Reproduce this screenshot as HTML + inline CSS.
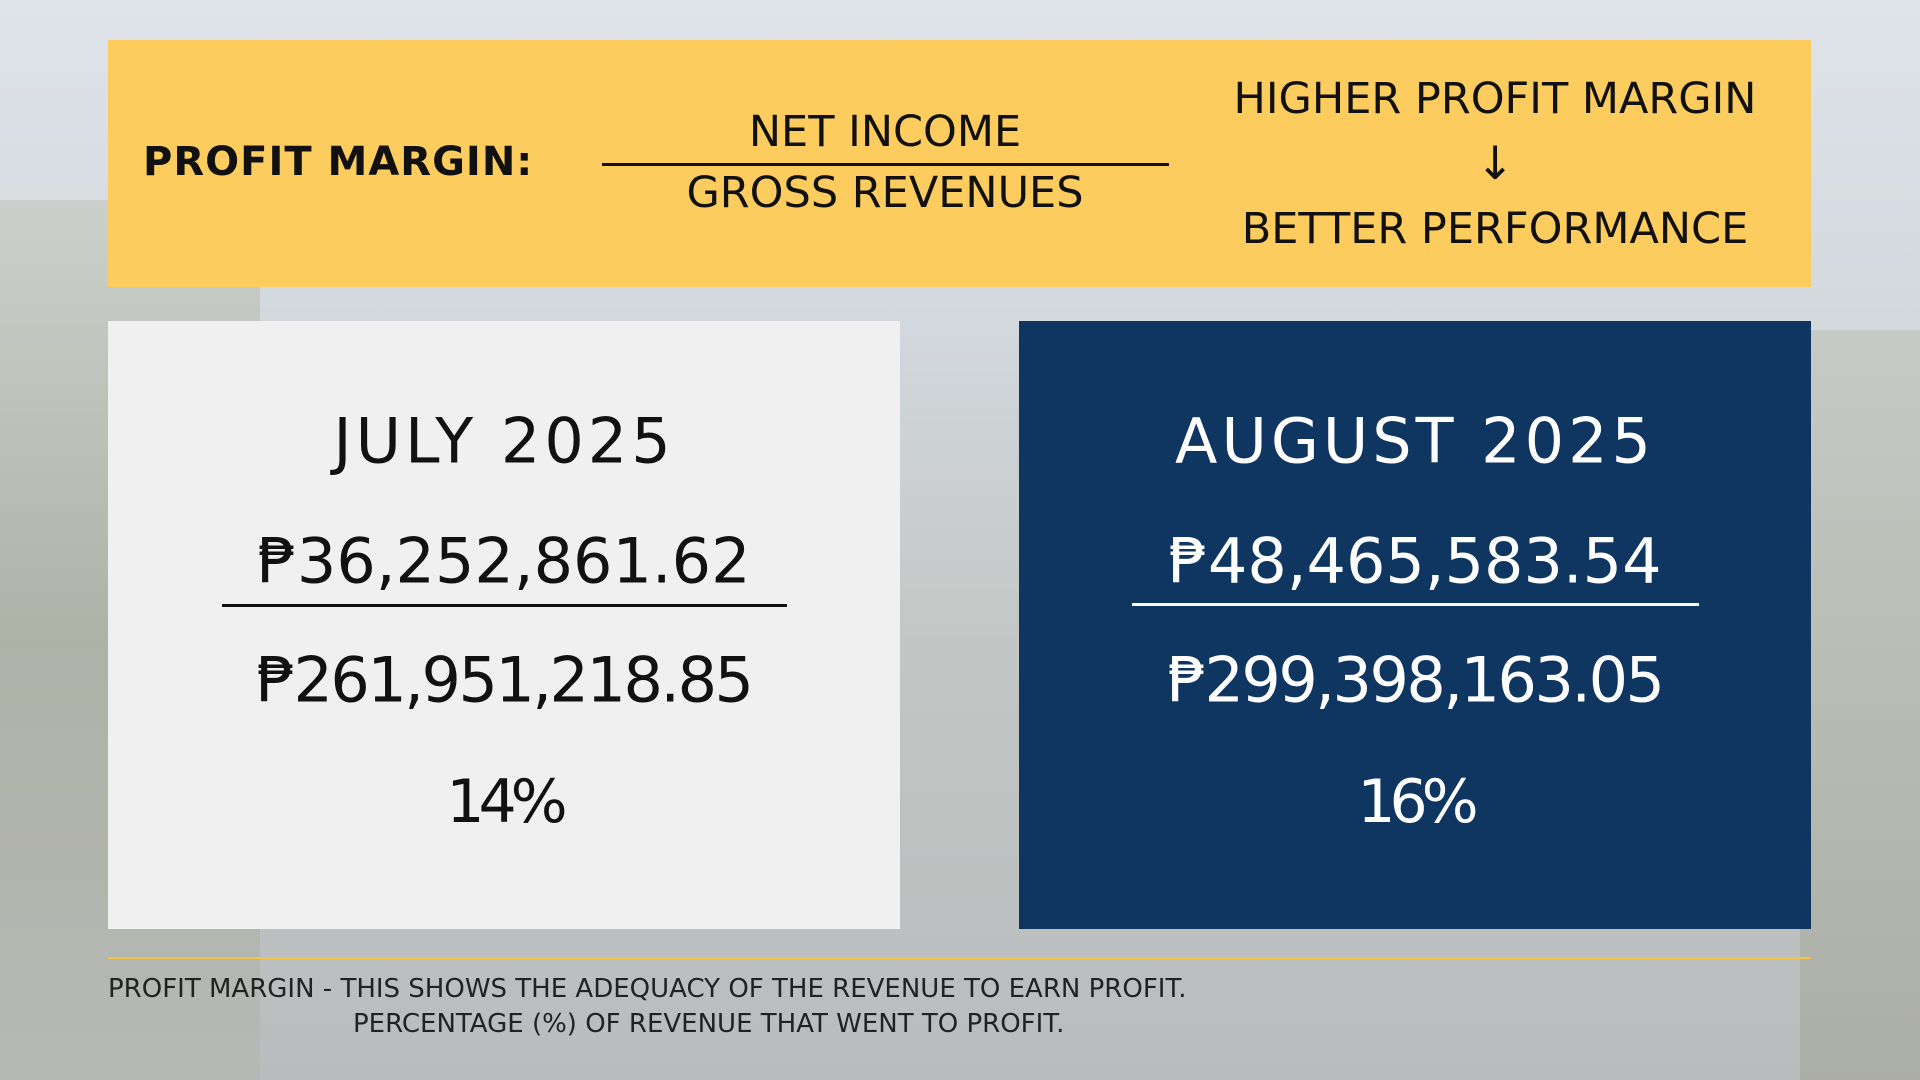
<!DOCTYPE html>
<html><head><meta charset="utf-8"><style>
*{margin:0;padding:0;box-sizing:border-box}
body{width:1920px;height:1080px;overflow:hidden;position:relative;font-family:"DejaVu Sans","Liberation Sans",sans-serif;
background:linear-gradient(180deg,#dfe4ea 0%,#d3d8dd 30%,#c3c6c4 60%,#b9bcbd 100%);}
.bg1{position:absolute;left:0;top:200px;width:260px;height:880px;background:linear-gradient(180deg,#c9ccc5,#a9ad9f 50%,#b5b7b3);opacity:.8}
.bg2{position:absolute;right:0;top:330px;width:120px;height:750px;background:linear-gradient(180deg,#c3c7c0,#a8ab9f);opacity:.8}
.t{position:absolute;white-space:nowrap;transform:translate(-50%,-50%)}
.yellow{position:absolute;left:108px;top:40px;width:1703px;height:247px;background:#fccd5e}
.card{position:absolute;top:321px;height:608px;width:792px}
.l{left:108px;background:#f0f0f0;color:#111}
.r{left:1019px;background:#0f3561;color:#fff}
.hr{position:absolute;height:3px}
.d{letter-spacing:-2.5px}
.p{letter-spacing:-6px}
</style></head><body>
<div class="bg1"></div><div class="bg2"></div>
<div class="yellow"></div>
<div class="t" style="left:143px;top:162px;transform:translateY(-50%);font-weight:bold;font-size:40px;color:#111;letter-spacing:1px">PROFIT MARGIN:</div>
<div class="t" style="left:885px;top:132px;font-size:43px;color:#111">NET INCOME</div>
<div class="hr" style="left:602px;top:163px;width:567px;background:#111"></div>
<div class="t" style="left:885px;top:193px;font-size:43px;color:#111">GROSS REVENUES</div>
<div class="t" style="left:1495px;top:99px;font-size:43px;color:#111">HIGHER PROFIT MARGIN</div>
<div class="t" style="left:1495px;top:163px;font-size:46px;color:#111">↓</div>
<div class="t" style="left:1495px;top:229px;font-size:43px;color:#111">BETTER PERFORMANCE</div>

<div class="card l"></div>
<div class="card r"></div>
<div class="t" style="left:504px;top:441px;font-size:62px;letter-spacing:4px;color:#111">JULY 2025</div>
<div class="t" style="left:504px;top:561px;font-size:62px;color:#111">₱36,252,861.62</div>
<div class="hr" style="left:222px;top:604px;width:565px;background:#111"></div>
<div class="t d" style="left:504px;top:680px;font-size:62px;color:#111">₱261,951,218.85</div>
<div class="t p" style="left:504px;top:802px;font-size:60px;color:#111">14%</div>

<div class="t" style="left:1415px;top:441px;font-size:62px;letter-spacing:4px;color:#fff">AUGUST 2025</div>
<div class="t" style="left:1415px;top:561px;font-size:62px;color:#fff">₱48,465,583.54</div>
<div class="hr" style="left:1132px;top:603px;width:567px;background:#fff"></div>
<div class="t d" style="left:1415px;top:680px;font-size:62px;color:#fff">₱299,398,163.05</div>
<div class="t p" style="left:1415px;top:802px;font-size:60px;color:#fff">16%</div>

<div class="hr" style="left:108px;top:957px;width:1703px;height:2px;background:#f5c242"></div>
<div class="t" style="left:108px;top:989px;transform:translateY(-50%);font-size:26px;color:#222">PROFIT MARGIN - THIS SHOWS THE ADEQUACY OF THE REVENUE TO EARN PROFIT.</div>
<div class="t" style="left:353px;top:1024px;transform:translateY(-50%);font-size:26px;color:#222">PERCENTAGE (%) OF REVENUE THAT WENT TO PROFIT.</div>
</body></html>
